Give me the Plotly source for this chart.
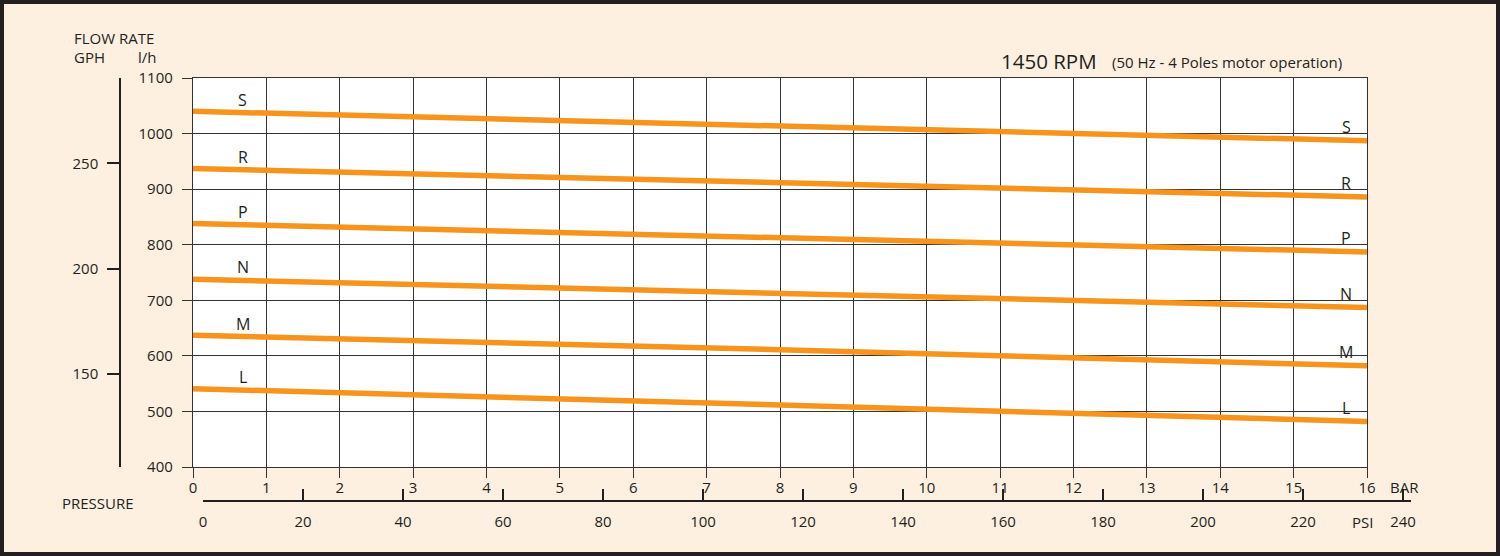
import plotly.graph_objects as go

# ---- data ----
pressure_bar = [0, 8, 16]
curve_names = ["S", "R", "P", "N", "M", "L"]
flow_S = [1040, 1013, 987]
flow_R = [937, 912, 886]
flow_P = [838, 813, 787]
flow_N = [738, 713, 687]
flow_M = [637, 611, 582]
flow_L = [541, 511, 482]
flows = [flow_S, flow_R, flow_P, flow_N, flow_M, flow_L]

bar_ticks = list(range(0, 17))
lh_ticks = [400, 500, 600, 700, 800, 900, 1000, 1100]
gph_ticks = [150, 200, 250]
psi_ticks = [0, 20, 40, 60, 80, 100, 120, 140, 160, 180, 200, 220, 240]
LH_PER_GAL = 3.78541

W, H = 1500, 556
FONT = "Open Sans"
INK = "#231F20"
GRID = "#333333"
ORANGE = "#F7941D"
BG = "#FDF0E1"

def px(x):
    return x / W

def py(y):
    return 1 - y / H

fig = go.Figure()

for name, f in zip(curve_names, flows):
    fig.add_trace(go.Scatter(x=pressure_bar, y=f, mode="lines",
                             line=dict(color=ORANGE, width=5.5),
                             name=name, showlegend=False, hoverinfo="skip"))

# invisible helper traces so the extra axes render
fig.add_trace(go.Scatter(x=[0], y=[200], yaxis="y2", mode="markers",
                         marker=dict(opacity=0), showlegend=False, hoverinfo="skip"))
fig.add_trace(go.Scatter(x=[0], y=[0], xaxis="x2", yaxis="y3", mode="markers",
                         marker=dict(opacity=0), showlegend=False, hoverinfo="skip"))

tickfont = dict(family=FONT, size=15, color=INK)

fig.update_layout(
    width=W, height=H,
    margin=dict(l=0, r=0, t=0, b=0, pad=0),
    paper_bgcolor=BG,
    plot_bgcolor="rgba(0,0,0,0)",
    xaxis=dict(domain=[px(193), px(1367)], range=[0, 16], tickvals=bar_ticks,
               showgrid=True, gridcolor=GRID, gridwidth=1.3,
               ticks="outside", ticklen=10, tickwidth=1.3, tickcolor=GRID,
               showline=True, linecolor=GRID, linewidth=1.3, mirror=True,
               zeroline=False, tickfont=tickfont, anchor="y", fixedrange=True,
               automargin=False, ticklabelstandoff=-3),
    yaxis=dict(domain=[py(467), py(78)], range=[400, 1100], tickvals=lh_ticks,
               showgrid=True, gridcolor=GRID, gridwidth=1.3,
               ticks="outside", ticklen=10, tickwidth=1.3, tickcolor=GRID,
               showline=True, linecolor=GRID, linewidth=1.3, mirror=True,
               zeroline=False, tickfont=tickfont, anchor="x", fixedrange=True,
               automargin=False, ticklabelstandoff=6),
    yaxis2=dict(overlaying="y", anchor="free", position=px(120), side="left",
                range=[400 / LH_PER_GAL, 1100 / LH_PER_GAL], tickvals=gph_ticks,
                showgrid=False, zeroline=False, ticks="outside", ticklen=12,
                tickwidth=1.5, tickcolor=INK, showline=True, linecolor=INK,
                linewidth=1.5, tickfont=tickfont, fixedrange=True,
                automargin=False, ticklabelstandoff=6),
    xaxis2=dict(domain=[px(203), px(1411)], range=[0, 241.6], tickvals=psi_ticks,
                anchor="free", position=py(501), side="bottom",
                showgrid=False, zeroline=False, ticks="inside", ticklen=11,
                tickwidth=1.5, tickcolor=INK, showline=True, linecolor=INK,
                linewidth=1.5, tickfont=tickfont, fixedrange=True,
                automargin=False, ticklabelstandoff=7),
    yaxis3=dict(domain=[py(467), py(78)], anchor="x2", visible=False,
                range=[0, 1], fixedrange=True, automargin=False),
)

shapes = [
    dict(type="rect", xref="x", yref="y", x0=0, x1=16, y0=400, y1=1100,
         fillcolor="white", line=dict(width=0), layer="below"),
    dict(type="rect", xref="paper", yref="paper", x0=0, x1=1, y0=0, y1=1,
         line=dict(color=INK, width=8), fillcolor="rgba(0,0,0,0)"),
]
fig.update_layout(shapes=shapes)

ann = []
def text(x, y, s, size=15, xanchor="left", yanchor="middle"):
    ann.append(dict(xref="paper", yref="paper", x=px(x), y=py(y), text=s,
                    showarrow=False, xanchor=xanchor, yanchor=yanchor,
                    font=dict(family=FONT, size=size, color=INK)))

text(72, 38, "FLOW RATE")
text(72, 57, "GPH")
text(136, 57, "l/h")
text(60, 503, "PRESSURE")
text(1388, 487, "BAR")
text(1350, 522, "PSI")
text(999, 61, "1450 RPM", size=20.5)
text(1110, 62, "(50 Hz - 4 Poles motor operation)", size=15)

# curve labels
for name, f in zip(curve_names, flows):
    yl = f[0] + (f[1] - f[0]) * 0.68 / 8
    ann.append(dict(xref="x", yref="y", x=0.68, y=yl, text=name, showarrow=False,
                    yshift=13, font=dict(family=FONT, size=16, color=INK)))
    yr = f[1] + (f[2] - f[1]) * (15.72 - 8) / 8
    ann.append(dict(xref="x", yref="y", x=15.72, y=yr, text=name, showarrow=False,
                    yshift=13, font=dict(family=FONT, size=16, color=INK)))

fig.update_layout(annotations=ann)

fig.write_html("out.html", config={"displayModeBar": False},
               post_script="document.body.style.margin='0';document.body.style.overflow='hidden';")
